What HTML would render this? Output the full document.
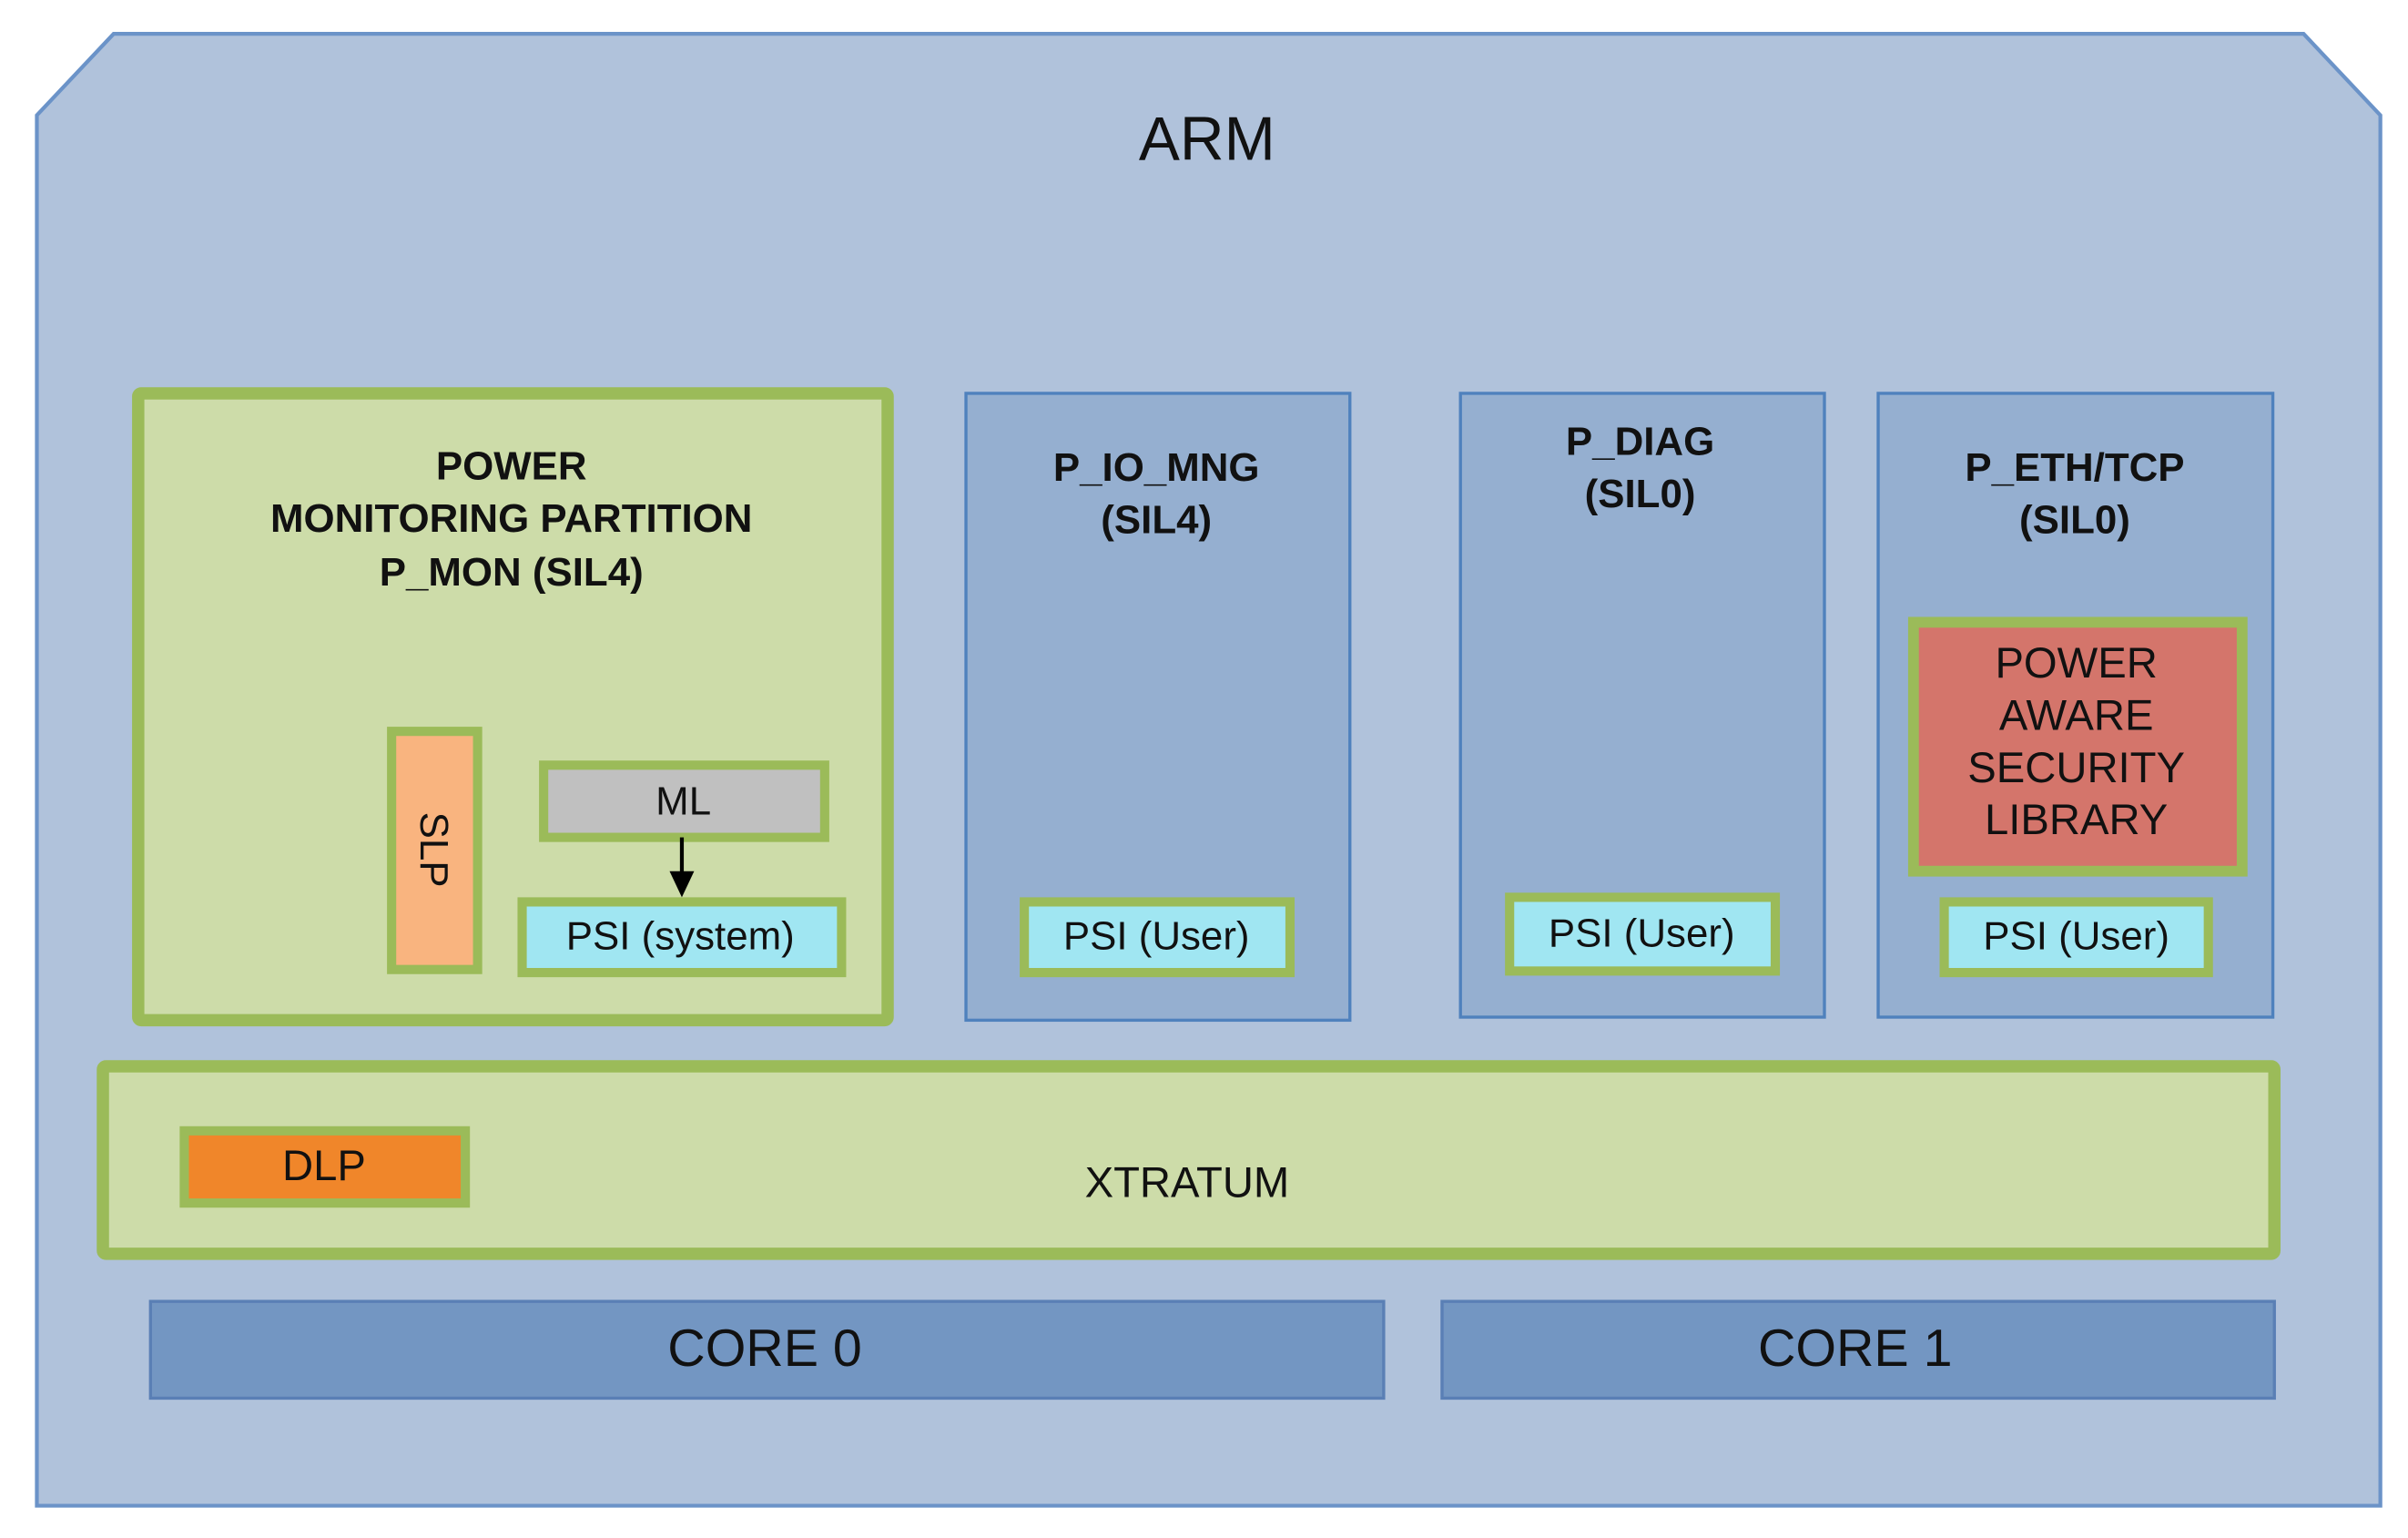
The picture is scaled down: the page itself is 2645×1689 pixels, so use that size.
<!DOCTYPE html>
<html><head><meta charset="utf-8"><style>
html,body{margin:0;padding:0;background:#fff;}
svg{display:block;}
text{font-family:"Liberation Sans",Arial,sans-serif;fill:#111;}
</style></head><body>
<svg width="2645" height="1689" viewBox="0 0 1568 1001" preserveAspectRatio="none" xmlns="http://www.w3.org/2000/svg">
<polygon points="24,75 74,22 1500,22 1550,75 1550,980 24,980" fill="#b0c2db" stroke="#6b93c8" stroke-width="2.5"/>
<text x="786" y="104" font-size="40" text-anchor="middle">ARM</text>

<rect x="90" y="256" width="488" height="408" fill="#cddca9" stroke="#9bbb59" stroke-width="8" rx="2"/>
<g font-weight="bold" font-size="26" text-anchor="middle">
<text x="333" y="312">POWER</text>
<text x="333" y="346">MONITORING PARTITION</text>
<text x="333" y="381">P_MON (SIL4)</text>
</g>
<rect x="255" y="476" width="56" height="155" fill="#f9b47f" stroke="#9bbb59" stroke-width="6"/>
<text x="0" y="0" font-size="26" text-anchor="middle" transform="translate(274,553) rotate(90)">SLP</text>
<rect x="354" y="498" width="183" height="47" fill="#c0c0c0" stroke="#9bbb59" stroke-width="6"/>
<text x="445" y="530" font-size="26" text-anchor="middle">ML</text>
<line x1="444" y1="545" x2="444" y2="570" stroke="#000" stroke-width="2.5"/>
<polygon points="436,567 452,567 444,584" fill="#000"/>
<rect x="340" y="587" width="208" height="46" fill="#a0e6f2" stroke="#9bbb59" stroke-width="6"/>
<text x="443" y="618" font-size="26" text-anchor="middle">PSI (system)</text>

<rect x="629" y="256" width="250" height="408" fill="#95afd0" stroke="#4f81bd" stroke-width="2"/>
<g font-weight="bold" font-size="26" text-anchor="middle">
<text x="753" y="313">P_IO_MNG</text>
<text x="753" y="347">(SIL4)</text>
</g>
<rect x="667" y="587" width="173" height="46" fill="#a0e6f2" stroke="#9bbb59" stroke-width="6"/>
<text x="753" y="618" font-size="26" text-anchor="middle">PSI (User)</text>

<rect x="951" y="256" width="237" height="406" fill="#95afd0" stroke="#4f81bd" stroke-width="2"/>
<g font-weight="bold" font-size="26" text-anchor="middle">
<text x="1068" y="296">P_DIAG</text>
<text x="1068" y="330">(SIL0)</text>
</g>
<rect x="983" y="584" width="173" height="48" fill="#a0e6f2" stroke="#9bbb59" stroke-width="6"/>
<text x="1069" y="616" font-size="26" text-anchor="middle">PSI (User)</text>

<rect x="1223" y="256" width="257" height="406" fill="#95afd0" stroke="#4f81bd" stroke-width="2"/>
<g font-weight="bold" font-size="26" text-anchor="middle">
<text x="1351" y="313">P_ETH/TCP</text>
<text x="1351" y="347">(SIL0)</text>
</g>
<rect x="1246" y="405" width="214" height="162" fill="#d4756b" stroke="#9bbb59" stroke-width="7"/>
<g font-size="28" text-anchor="middle">
<text x="1352" y="441">POWER</text>
<text x="1352" y="475">AWARE</text>
<text x="1352" y="509">SECURITY</text>
<text x="1352" y="543">LIBRARY</text>
</g>
<rect x="1266" y="587" width="172" height="46" fill="#a0e6f2" stroke="#9bbb59" stroke-width="6"/>
<text x="1352" y="618" font-size="26" text-anchor="middle">PSI (User)</text>

<rect x="67" y="694" width="1414" height="122" fill="#cddca9" stroke="#9bbb59" stroke-width="8" rx="2"/>
<text x="773" y="779" font-size="28" text-anchor="middle">XTRATUM</text>
<rect x="120" y="736" width="183" height="47" fill="#f0862a" stroke="#9bbb59" stroke-width="6"/>
<text x="211" y="768" font-size="28" text-anchor="middle">DLP</text>

<rect x="98" y="847" width="803" height="63" fill="#7396c2" stroke="#5a7fb5" stroke-width="2"/>
<text x="498" y="889" font-size="34" text-anchor="middle" fill="#1a2a40">CORE 0</text>
<rect x="939" y="847" width="542" height="63" fill="#7396c2" stroke="#5a7fb5" stroke-width="2"/>
<text x="1208" y="889" font-size="34" text-anchor="middle" fill="#1a2a40">CORE 1</text>
</svg>
</body></html>
